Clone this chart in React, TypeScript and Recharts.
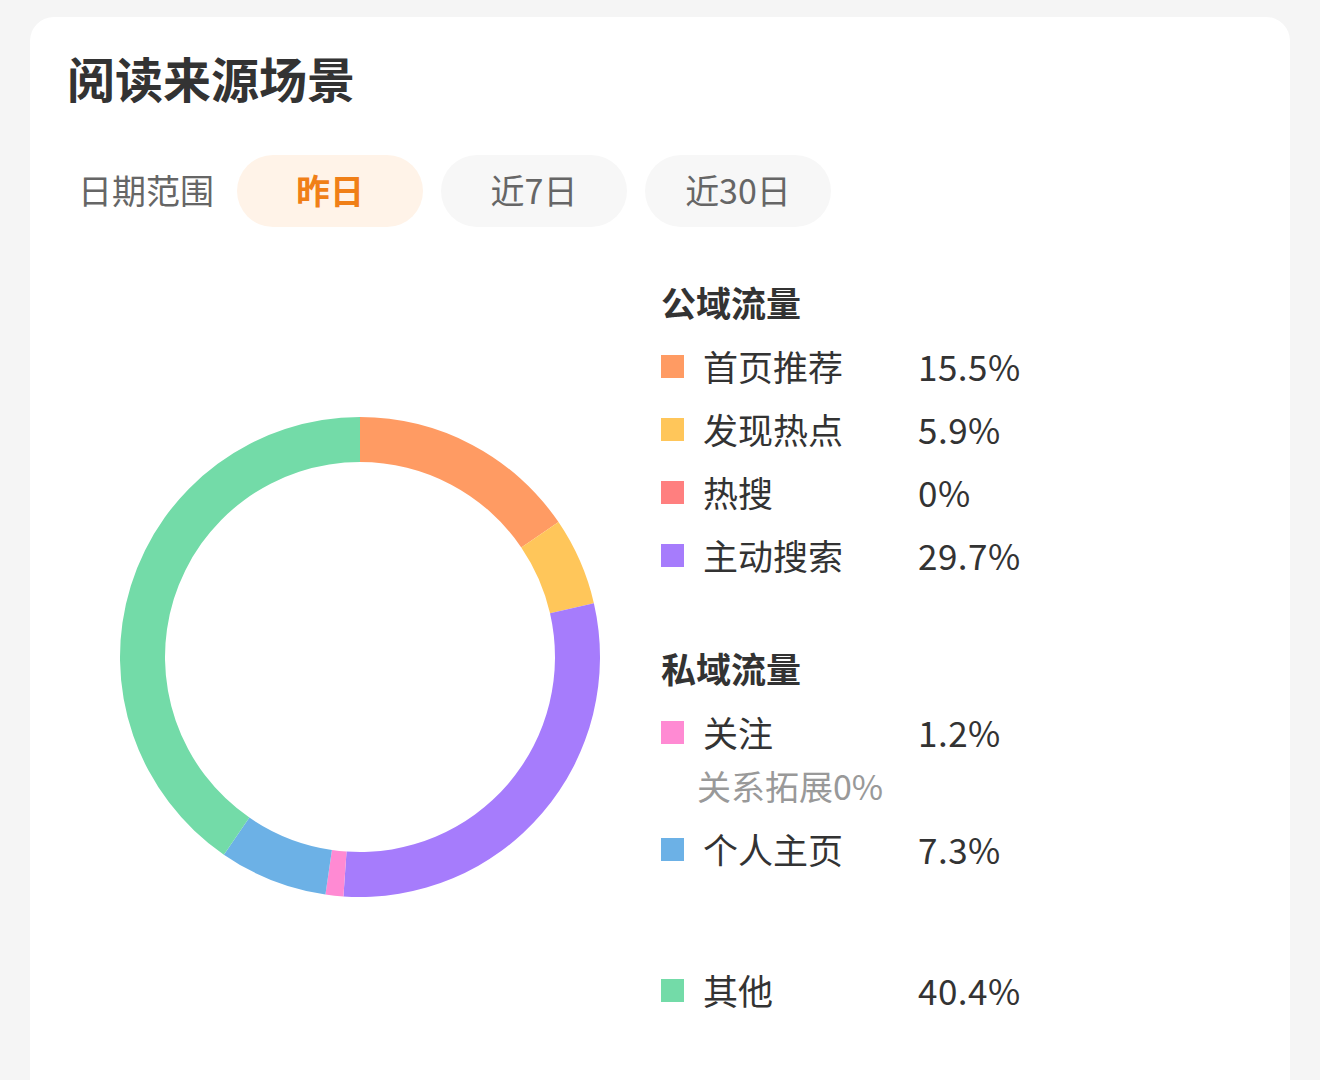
import React from 'react';
import { PieChart, Pie, Cell } from 'recharts';

const publicNames = ['首页推荐', '发现热点', '热搜', '主动搜索'];
const publicValues = [15.5, 5.9, 0, 29.7];
const publicColors = ['#ff9b63', '#ffc65a', '#ff7f7f', '#a67cfc'];

const privateNames = ['关注', '个人主页'];
const privateValues = [1.2, 7.3];
const privateColors = ['#ff8ad3', '#6cb1e6'];

const otherName = '其他';
const otherValue = 40.4;
const otherColor = '#73dba8';

const relationNote = '关系拓展0%';
const dateOptions = ['昨日', '近7日', '近30日'];

const pieData = [
    ...publicNames.map((name, i) => ({ name, value: publicValues[i], color: publicColors[i] })),
    ...privateNames.map((name, i) => ({ name, value: privateValues[i], color: privateColors[i] })),
    { name: otherName, value: otherValue, color: otherColor },
];

const font = '"Noto Sans CJK SC", "Noto Sans", sans-serif';

const LegendRow: React.FC<{ name: string; value: number; color: string; top: number }> = ({ name, value, color, top }) => (
    <div style={{ position: 'absolute', left: 631, top: top - 25, height: 50, display: 'flex', alignItems: 'center' }}>
        <div style={{ width: 23, height: 23, background: color, marginTop: 2 }} />
        <div style={{ position: 'absolute', left: 42, fontSize: 35, color: '#333', whiteSpace: 'nowrap' }}>{name}</div>
        <div style={{ position: 'absolute', left: 257, fontSize: 35, color: '#333', whiteSpace: 'nowrap', letterSpacing: 0.5 }}>{value}%</div>
    </div>
);

const App: React.FC = () => {
    return (
        <div style={{ position: 'fixed', left: 0, top: 0, width: 1320, height: 1080, background: '#f5f5f5', overflow: 'hidden', fontFamily: font }}>
            <div style={{ position: 'absolute', left: 30, top: 17, width: 1260, height: 1100, background: '#fff', borderRadius: 24 }}>
                <div style={{ position: 'absolute', left: 37, top: 30, fontSize: 48, fontWeight: 700, color: '#333', lineHeight: '60px' }}>
                    阅读来源场景
                </div>
                <div style={{ position: 'absolute', left: 48, top: 136, height: 72, display: 'flex', alignItems: 'center', fontSize: 34, color: '#666' }}>
                    日期范围
                </div>
                {dateOptions.map((label, i) => (
                    <div
                        key={label}
                        style={{
                            position: 'absolute',
                            left: 207 + i * 204,
                            top: 138,
                            width: 186,
                            height: 72,
                            borderRadius: 36,
                            background: i === 0 ? '#fff3e8' : '#f7f7f7',
                            color: i === 0 ? '#f07f17' : '#666',
                            fontWeight: i === 0 ? 700 : 400,
                            fontSize: 34,
                            display: 'flex',
                            alignItems: 'center',
                            justifyContent: 'center',
                            paddingBottom: 4,
                            boxSizing: 'border-box',
                        }}
                    >
                        {label}
                    </div>
                ))}

                <div style={{ position: 'absolute', left: 75, top: 385 }}>
                    <PieChart width={500} height={500}>
                        <Pie
                            data={pieData}
                            dataKey="value"
                            nameKey="name"
                            cx={250}
                            cy={250}
                            innerRadius={195}
                            outerRadius={240}
                            startAngle={90}
                            endAngle={-270}
                            stroke="none"
                            isAnimationActive={false}
                        >
                            {pieData.map((d) => (
                                <Cell key={d.name} fill={d.color} />
                            ))}
                        </Pie>
                    </PieChart>
                </div>

                <div style={{ position: 'absolute', left: 631, top: 260, fontSize: 35, fontWeight: 700, color: '#333', lineHeight: '50px' }}>公域流量</div>
                {publicNames.map((name, i) => (
                    <LegendRow key={name} name={name} value={publicValues[i]} color={publicColors[i]} top={348 + i * 63} />
                ))}

                <div style={{ position: 'absolute', left: 631, top: 626, fontSize: 35, fontWeight: 700, color: '#333', lineHeight: '50px' }}>私域流量</div>
                <LegendRow name={privateNames[0]} value={privateValues[0]} color={privateColors[0]} top={714} />
                <div style={{ position: 'absolute', left: 667, top: 744, fontSize: 34, color: '#999', lineHeight: '50px' }}>{relationNote}</div>
                <LegendRow name={privateNames[1]} value={privateValues[1]} color={privateColors[1]} top={831} />

                <LegendRow name={otherName} value={otherValue} color={otherColor} top={972} />
            </div>
        </div>
    );
};

export default App;
